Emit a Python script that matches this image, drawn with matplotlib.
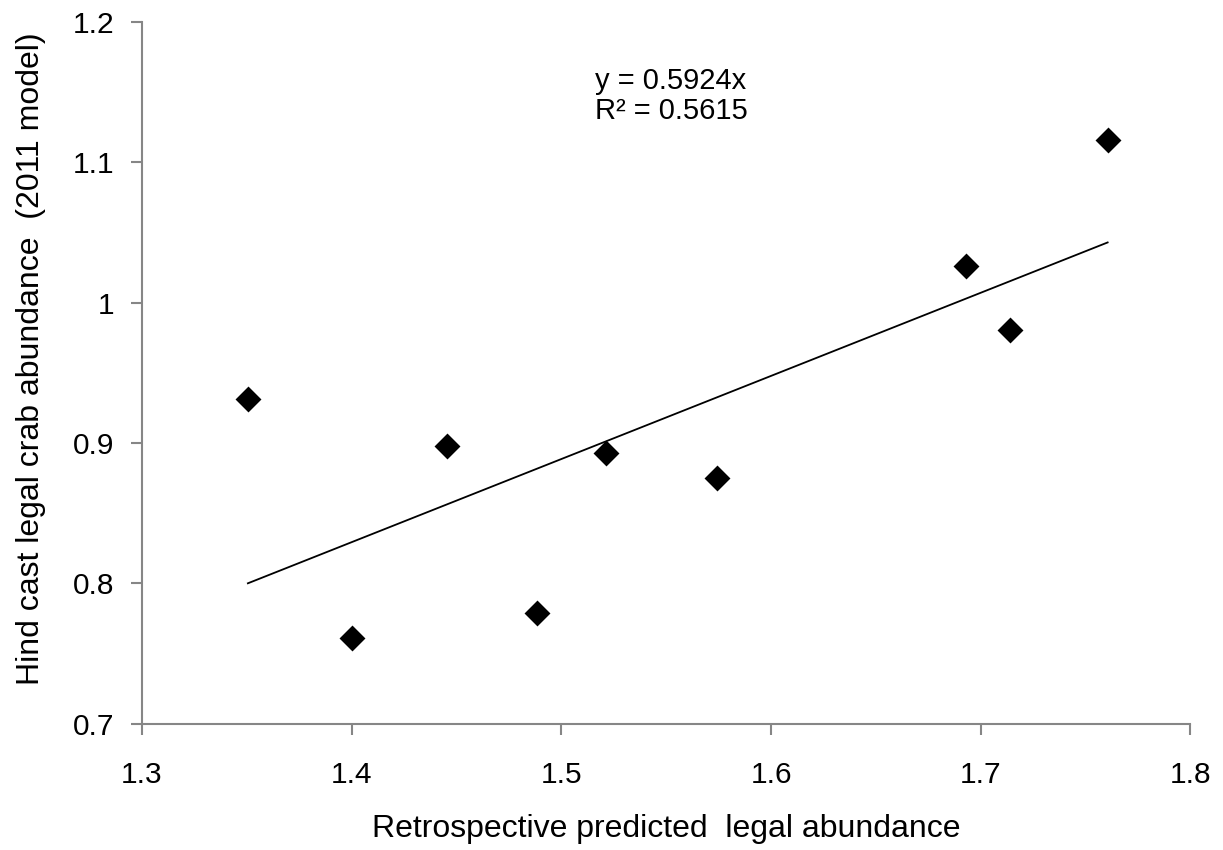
import matplotlib
matplotlib.use('Agg')
import matplotlib.pyplot as plt
import numpy as np

# retrospective predicted legal abundance vs hind cast legal crab abundance
predicted = [1.3505, 1.4003, 1.4453, 1.4882, 1.5213, 1.5742, 1.6928, 1.7139, 1.7605]
hindcast = [0.9312, 0.7613, 0.8981, 0.7791, 0.8932, 0.8753, 1.0260, 0.9806, 1.1160]

slope = 0.5924
r2 = 0.5615

x_ticks = [1.3, 1.4, 1.5, 1.6, 1.7, 1.8]
y_ticks = [0.7, 0.8, 0.9, 1.0, 1.1, 1.2]
y_tick_labels = ['0.7', '0.8', '0.9', '1', '1.1', '1.2']

plt.rcParams['font.family'] = ['Liberation Sans', 'DejaVu Sans']

fig = plt.figure(figsize=(12.23, 8.5), dpi=100)
ax = fig.add_axes([0.1161, 0.1486, 0.8573, 0.8255])

ax.scatter(predicted, hindcast, marker='D', s=13.2 ** 2, color='black', zorder=3, linewidths=0)

# linear trendline through origin
x_line = np.array([min(predicted), max(predicted)])
ax.plot(x_line, slope * x_line, color='black', linewidth=1.3, zorder=2)

ax.text(0.432, 0.936, f'y = {slope}x\nR² = {r2}', transform=ax.transAxes,
        ha='left', va='top', fontsize=21, linespacing=1.1)

ax.set_xlim(1.3, 1.8)
ax.set_ylim(0.7, 1.2)
ax.set_xticks(x_ticks)
ax.set_xticklabels([str(t) for t in x_ticks])
ax.set_yticks(y_ticks)
ax.set_yticklabels(y_tick_labels)

for side in ['top', 'right']:
    ax.spines[side].set_visible(False)
for side in ['left', 'bottom']:
    ax.spines[side].set_color('#868686')
    ax.spines[side].set_linewidth(1.5)

ax.tick_params(axis='both', direction='out', length=8, width=1.5, color='#868686', labelsize=21.5)
ax.tick_params(axis='x', pad=19)
ax.tick_params(axis='y', pad=12)

ax.set_xlabel('Retrospective predicted  legal abundance', fontsize=23, labelpad=18)
ax.set_ylabel('Hind cast legal crab abundance  (2011 model)', fontsize=23)
ax.yaxis.set_label_coords(-0.092, 0.52)

fig.savefig('out.png', dpi=100)
plt.close(fig)
